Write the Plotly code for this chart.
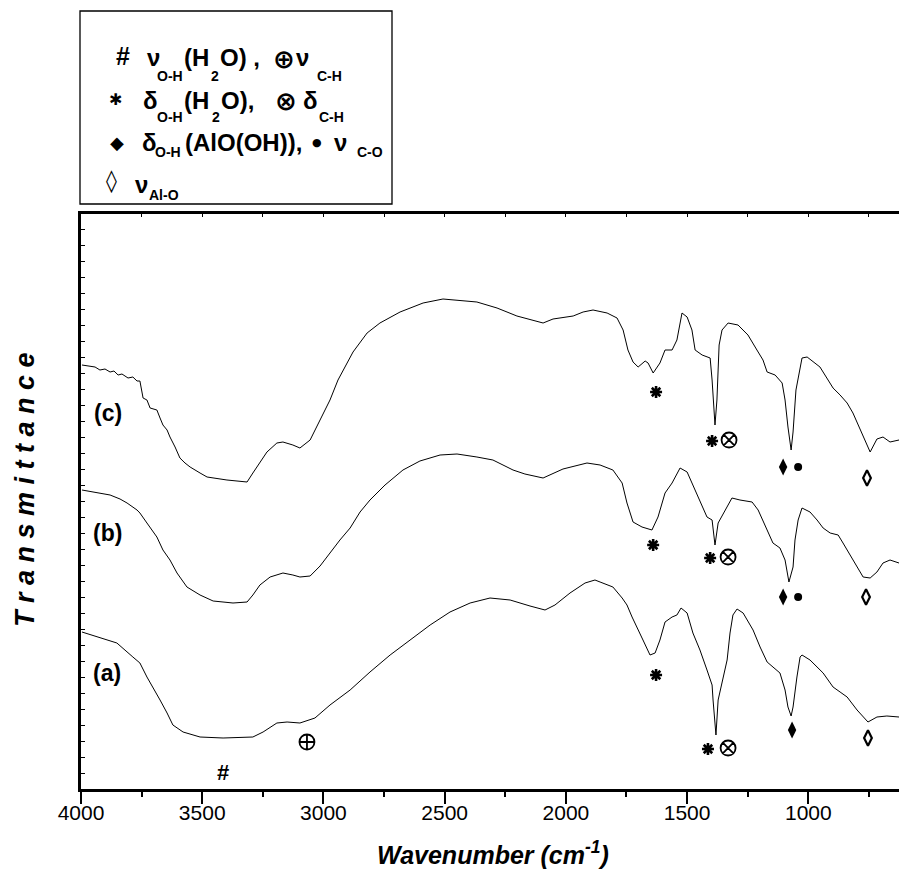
import plotly.graph_objects as go

# ---------------- data (wavenumber cm-1, transmittance a.u.) ----------------
wn_c = [3996, 3942, 3922, 3901, 3880, 3864, 3847, 3831, 3806, 3786, 3769, 3757, 3744, 3728, 3715,
        3687, 3674, 3662, 3645, 3633, 3612, 3592, 3571, 3550, 3509, 3480, 3398, 3315, 3291, 3262,
        3233, 3192, 3167, 3126, 3097, 3055, 3014, 2973, 2940, 2903, 2878, 2820, 2767, 2684, 2589,
        2507, 2367, 2284, 2202, 2094, 2053, 1970, 1929, 1888, 1830, 1789, 1764, 1744, 1723, 1702,
        1673, 1661, 1640, 1612, 1591, 1562, 1542, 1521, 1500, 1480, 1467, 1438, 1405, 1397, 1385,
        1377, 1368, 1356, 1331, 1290, 1249, 1212, 1187, 1170, 1137, 1108, 1096, 1084, 1071, 1063,
        1051, 1026, 1005, 952, 898, 869, 840, 816, 774, 745, 717, 692, 663, 626]
t_c = [84.8, 84.4, 83.8, 84.0, 83.4, 83.6, 82.8, 83.0, 82.2, 82.4, 81.6, 81.6, 78.2, 77.8, 76.2,
       75.8, 74.2, 72.8, 71.8, 70.4, 68.4, 66.2, 65.2, 64.4, 63.2, 62.4, 61.8, 61.4, 63.2, 65.4,
       67.4, 69.2, 69.4, 68.8, 68.2, 69.8, 73.8, 77.8, 81.8, 85.2, 87.4, 91.2, 93.2, 95.4, 97.2,
       98.0, 97.4, 96.2, 94.6, 93.2, 94.0, 94.6, 95.4, 95.8, 95.2, 94.2, 91.8, 87.8, 85.4, 84.4,
       85.6, 85.2, 83.2, 85.2, 87.8, 87.8, 89.8, 95.2, 94.4, 91.8, 87.8, 86.8, 86.2, 81.8, 72.8,
       77.8, 88.8, 91.8, 93.2, 92.8, 90.8, 87.8, 85.8, 83.4, 82.8, 81.2, 77.8, 72.4, 67.8, 71.4,
       79.8, 86.2, 86.4, 84.4, 80.2, 78.8, 77.2, 75.2, 70.4, 67.4, 70.0, 70.4, 69.4, 69.8]

wn_b = [3996, 3942, 3880, 3839, 3810, 3769, 3757, 3728, 3687, 3662, 3633, 3604, 3563, 3509, 3455,
        3373, 3315, 3291, 3262, 3220, 3167, 3126, 3097, 3055, 3014, 2973, 2932, 2890, 2849, 2808,
        2746, 2672, 2602, 2519, 2449, 2367, 2301, 2218, 2169, 2094, 2045, 2012, 1913, 1859, 1806,
        1768, 1748, 1723, 1686, 1645, 1620, 1591, 1562, 1529, 1500, 1480, 1447, 1418, 1397, 1385,
        1372, 1344, 1315, 1282, 1232, 1207, 1170, 1146, 1117, 1096, 1080, 1063, 1055, 1042, 1026,
        993, 964, 939, 910, 877, 857, 828, 799, 774, 745, 717, 692, 663, 626]
t_b = [59.8, 59.4, 58.8, 58.0, 57.2, 55.8, 55.2, 53.2, 50.4, 47.8, 45.8, 43.2, 40.4, 38.8, 37.6,
       37.2, 37.4, 38.8, 40.8, 42.4, 43.2, 42.8, 42.4, 42.6, 44.6, 47.2, 49.8, 52.2, 55.4, 57.8,
       60.8, 63.8, 65.6, 66.8, 67.0, 66.4, 65.8, 63.8, 63.0, 62.2, 63.2, 64.0, 65.2, 64.8, 63.8,
       61.2, 57.2, 53.4, 52.4, 51.8, 54.4, 59.2, 61.2, 64.2, 63.4, 61.2, 57.4, 54.4, 53.8, 48.8,
       53.2, 55.8, 58.2, 57.8, 57.4, 55.8, 51.8, 49.2, 48.2, 45.8, 41.4, 44.4, 49.8, 53.8, 56.2,
       55.4, 53.8, 52.2, 51.2, 50.8, 49.2, 46.8, 44.2, 42.4, 42.2, 43.4, 45.2, 45.8, 45.2]

wn_a = [3996, 3922, 3852, 3786, 3757, 3728, 3703, 3674, 3645, 3621, 3579, 3509, 3414, 3291, 3249,
        3192, 3150, 3097, 3035, 2973, 2890, 2808, 2725, 2643, 2560, 2478, 2395, 2313, 2230, 2148,
        2086, 2045, 1983, 1921, 1880, 1859, 1806, 1768, 1748, 1727, 1707, 1682, 1653, 1632, 1612,
        1591, 1562, 1542, 1525, 1500, 1476, 1447, 1418, 1397, 1393, 1381, 1372, 1356, 1335, 1323,
        1311, 1294, 1269, 1228, 1199, 1170, 1146, 1117, 1096, 1084, 1071, 1063, 1047, 1034, 1026,
        993, 939, 898, 869, 840, 799, 754, 717, 676, 626]
t_a = [31.4, 30.2, 29.2, 26.4, 25.2, 22.4, 20.4, 17.8, 15.2, 12.8, 11.4, 10.4, 10.2, 10.4, 11.4,
       13.2, 13.4, 13.2, 14.2, 16.8, 19.8, 23.4, 26.8, 29.8, 32.8, 35.4, 37.2, 38.2, 37.8, 36.6,
       35.8, 36.8, 39.2, 41.2, 41.8, 41.4, 40.4, 38.2, 36.8, 34.4, 32.2, 29.8, 26.8, 27.2, 29.8,
       33.4, 34.4, 34.8, 36.2, 35.2, 31.2, 27.8, 23.8, 20.8, 17.8, 10.8, 17.8, 21.2, 25.8, 31.2,
       34.8, 36.0, 35.2, 31.8, 28.4, 25.4, 24.4, 23.2, 19.8, 16.4, 14.6, 16.4, 22.4, 26.4, 26.8,
       25.8, 23.2, 20.4, 19.4, 18.4, 15.8, 13.4, 14.4, 14.6, 14.4]

# band assignment marks
ast_wn = [1628, 1397, 1640, 1405, 1628, 1414]
ast_t = [79.4, 69.6, 48.8, 46.2, 22.8, 8.0]
otimes_wn = [1327, 1331, 1331]
otimes_t = [69.8, 46.4, 8.2]
dfill_wn = [1104, 1104, 1067]
dfill_t = [64.4, 38.4, 11.8]
dot_wn = [1042, 1042]
dot_t = [64.4, 38.4]
dopen_wn = [758, 762, 754]
dopen_t = [62.2, 38.4, 10.2]
oplus_wn = [3068]
oplus_t = [9.4]
hash_wn, hash_t = 3414, 3.4

curve_labels = ["(c)", "(b)", "(a)"]
label_wn = [3889, 3889, 3893]
label_t = [75.2, 51.2, 23.2]

x_ticks = [4000, 3500, 3000, 2500, 2000, 1500, 1000]
x_range = [4000, 626]
y_range = [0, 115]

# ---------------- figure ----------------
FONT = "Liberation Sans, Arial, DejaVu Sans, sans-serif"
SYM = "DejaVu Sans, Liberation Sans, sans-serif"

fig = go.Figure()
for i, (wn, t) in enumerate([(wn_c, t_c), (wn_b, t_b), (wn_a, t_a)]):
    fig.add_trace(go.Scatter(x=wn, y=t, mode="lines", xaxis="x2" if i == 0 else "x",
                             line=dict(color="black", width=1), hoverinfo="skip"))

def mk(xs, ys, symbol, size, lw=0):
    fig.add_trace(go.Scatter(x=xs, y=ys, mode="markers", cliponaxis=False, hoverinfo="skip",
                             marker=dict(symbol=symbol, size=size, color="black",
                                         line=dict(color="black", width=lw))))

mk(ast_wn, ast_t, "asterisk-open", 10, 2.6)
mk(otimes_wn, otimes_t, "circle-x-open", 15, 1.8)
mk(oplus_wn, oplus_t, "circle-cross-open", 15, 1.8)
mk(dfill_wn, dfill_t, "diamond-tall", 12, 0)
mk(dot_wn, dot_t, "circle", 8, 0)
mk(dopen_wn, dopen_t, "diamond-tall-open", 11, 2.2)

annotations = []
annotations.append(dict(x=hash_wn, y=hash_t, xref="x", yref="y", text="#", showarrow=False,
                        font=dict(family=FONT, size=22, color="black", weight="bold")))
for lab, xw, yt in zip(curve_labels, label_wn, label_t):
    annotations.append(dict(x=xw, y=yt, xref="x", yref="y", text=lab, showarrow=False,
                            font=dict(family=FONT, size=23, color="black", weight="bold")))

# legend box content (pixel positions in the 899x882 page -> paper coords)
L, R, T, B = 81, 899, 214, 789
def P(px, py):
    return (px - L) / (R - L), (B - py) / (B - T)

MAIN, SUB = 24, 14
leg = [
    # text, x(left), y(center), size, family
    ("#", 114, 56, 25, FONT),
    ("ν", 145, 58, MAIN, FONT),
    ("O-H", 155, 76, SUB, FONT),
    ("(H", 182, 58, MAIN, FONT),
    ("2", 209, 76, SUB, FONT),
    ("O) ,", 218, 58, MAIN, FONT),
    ("⊕", 271, 59, 26, SYM),
    ("ν", 294, 58, MAIN, FONT),
    ("C-H", 315, 76, SUB, FONT),

    ("✱", 107, 99, 16, SYM),
    ("δ", 141, 101, MAIN, FONT),
    ("O-H", 155, 117, SUB, FONT),
    ("(H", 182, 101, MAIN, FONT),
    ("2", 210, 117, SUB, FONT),
    ("O),", 219, 101, MAIN, FONT),
    ("⊗", 273, 101, 26, SYM),
    ("δ", 301, 101, MAIN, FONT),
    ("C-H", 317, 117, SUB, FONT),

    ("◆", 108, 143, 18, SYM),
    ("δ", 140, 142, MAIN, FONT),
    ("O-H", 153, 152, SUB, FONT),
    ("(AlO(OH)),", 183, 142, MAIN, FONT),
    ("●", 310, 143, 11, SYM),
    ("ν", 332, 142, MAIN, FONT),
    ("C-O", 355, 152, SUB, FONT),

    ("◊", 104, 181, 22, SYM),
    ("ν", 133, 184, MAIN, FONT),
    ("Al-O", 147, 195, 14, FONT),
]
for text, px, py, size, fam in leg:
    xp, yp = P(px, py)
    annotations.append(dict(x=xp, y=yp, xref="paper", yref="paper", text=text, showarrow=False,
                            xanchor="left", yanchor="middle",
                            font=dict(family=fam, size=size, color="black", weight="bold")))

# axis titles
xp, yp = P(493, 853)
annotations.append(dict(x=xp, y=yp, xref="paper", yref="paper", showarrow=False,
                        xanchor="center", yanchor="middle",
                        text="Wavenumber (cm<sup>-1</sup>)",
                        font=dict(family=FONT, size=25, color="black", weight="bold", style="italic")))
xp, yp = P(25, 490)
annotations.append(dict(x=xp, y=yp, xref="paper", yref="paper", showarrow=False, textangle=-90,
                        xanchor="center", yanchor="middle",
                        text="T r a n s m i t t a n c e",
                        font=dict(family=FONT, size=27, color="black", weight="bold", style="italic")))

x0, y1 = P(80, 11)
x1, y0 = P(392, 204)
shapes = [dict(type="rect", xref="paper", yref="paper", x0=x0, x1=x1, y0=y0, y1=y1,
               line=dict(color="black", width=1.3), fillcolor="rgba(0,0,0,0)")]

fig.update_layout(
    width=899, height=882,
    margin=dict(l=L, r=899 - R, t=T, b=882 - B, pad=0),
    plot_bgcolor="white", paper_bgcolor="white",
    showlegend=False,
    annotations=annotations, shapes=shapes,
    xaxis=dict(range=x_range, tickvals=x_ticks, ticks="outside", ticklen=12, tickwidth=2,
               tickcolor="black", showline=True, linewidth=3, linecolor="black",
               showgrid=False, zeroline=False, ticklabelstandoff=-9,
               tickfont=dict(family=FONT, size=21, color="black"),
               minor=dict(ticks="outside", ticklen=5, tickwidth=2, tickcolor="black",
                          dtick=250, tick0=0, showgrid=False)),
    xaxis2=dict(range=x_range, overlaying="x", side="top", showline=True, linewidth=2.5,
                linecolor="black", ticks="inside", ticklen=3, tickwidth=1, tickcolor="black",
                dtick=250, tick0=0, showticklabels=False, showgrid=False, zeroline=False),
    yaxis=dict(range=y_range, showline=True, linewidth=3, linecolor="black",
               ticks="inside", ticklen=4, tickwidth=1, tickcolor="black", dtick=3.2, tick0=0,
               showticklabels=False, showgrid=False, zeroline=False),
)

fig.write_html("out.html")
